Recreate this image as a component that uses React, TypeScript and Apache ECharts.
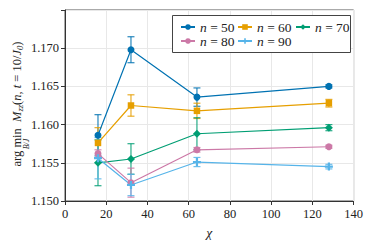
import React, { useEffect, useRef } from "react";
import * as echarts from "echarts";

const chi = [16, 32, 64, 128];
const n50 = [1.1586, 1.1698, 1.1636, 1.165];
const e50 = [0.0027, 0.0017, 0.0012, 0.0002];
const n60 = [1.1576, 1.1625, 1.1618, 1.1628];
const e60 = [0.002, 0.0014, 0.001, 0.0005];
const n70 = [1.155, 1.1555, 1.1588, 1.1596];
const e70 = [0.003, 0.002, 0.0021, 0.0004];
const n80 = [1.1562, 1.1524, 1.1567, 1.1571];
const e80 = [0.0005, 0.0019, 0.0003, 0.0002];
const n90 = [1.1556, 1.1521, 1.1551, 1.1545];
const e90 = [0.0027, 0.0014, 0.0006, 0.0003];
const names = ["n = 50", "n = 60", "n = 70", "n = 80", "n = 90"];
const colors = ["#0072B2", "#E69F00", "#009E73", "#CC79A7", "#56B4E9"];
const FONT = "Liberation Serif";

const PLUS = "path://M3.6,0H6.4V3.6H10V6.4H6.4V10H3.6V6.4H0V3.6H3.6Z";
const symbols = ["circle", "rect", "diamond", "circle", PLUS];
const symSizes = [7, 6.5, 8, 7, 8];

export default function App() {
  const ref = useRef<HTMLDivElement>(null);
  useEffect(() => {
    const chart = echarts.init(ref.current!, null, { renderer: "svg" });
    const vals = [n50, n60, n70, n80, n90];
    const errs = [e50, e60, e70, e80, e90];
    const errSeries = vals.map((v, i) => ({
      type: "custom",
      name: names[i] + " err",
      z: 3,
      data: chi.map((x, k) => [x, v[k] - errs[i][k], v[k] + errs[i][k]]),
      renderItem: (params: any, api: any) => {
        const x = api.value(0);
        const top = api.coord([x, api.value(2)]);
        const bot = api.coord([x, api.value(1)]);
        const w = 3.5;
        const st = { stroke: colors[i], lineWidth: 1.2, opacity: 0.85 };
        return {
          type: "group",
          children: [
            { type: "line", shape: { x1: top[0], y1: top[1], x2: bot[0], y2: bot[1] }, style: st },
            { type: "line", shape: { x1: top[0] - w, y1: top[1], x2: top[0] + w, y2: top[1] }, style: st },
            { type: "line", shape: { x1: bot[0] - w, y1: bot[1], x2: bot[0] + w, y2: bot[1] }, style: st },
          ],
        };
      },
    }));
    const lineSeries = vals.map((v, i) => ({
      type: "line",
      name: names[i],
      z: 4,
      data: chi.map((x, k) => [x, v[k]]),
      symbol: symbols[i],
      symbolSize: symSizes[i],
      showAllSymbol: true,
      lineStyle: { color: colors[i], width: 1.2 },
      itemStyle: { color: colors[i], borderWidth: 0 },
    }));
    const legendPos = [
      [180, 27],
      [237, 27],
      [295, 27],
      [180, 41],
      [237, 41],
    ];
    const legends = names.map((nm, i) => ({
      data: [nm],
      left: legendPos[i][0],
      top: legendPos[i][1] - 7,
      padding: 0,
      z: 10,
      itemWidth: 14,
      itemHeight: 7,
      itemGap: 0,
      formatter: (name: string) => "{i|n}{r|" + name.slice(1) + "}",
      textStyle: {
        fontFamily: FONT,
        rich: {
          i: { fontFamily: FONT, fontStyle: "italic", fontSize: 13.5, color: "#222", lineHeight: 14 },
          r: { fontFamily: FONT, fontSize: 13.5, color: "#222", lineHeight: 14 },
        },
      },
    }));
    chart.setOption({
      animation: false,
      backgroundColor: "#fff",
      textStyle: { fontFamily: FONT },
      grid: { left: 65, right: 10, top: 10, bottom: 43, show: true, borderColor: "#555", borderWidth: 1, backgroundColor: "transparent" },
      legend: legends,
      xAxis: {
        type: "value",
        min: 0,
        max: 140,
        interval: 20,
        name: "χ",
        nameLocation: "middle",
        nameGap: 24,
        nameTextStyle: { fontFamily: FONT, fontStyle: "italic", fontSize: 13.5, color: "#222" },
        axisLine: { show: true, lineStyle: { color: "#333", width: 1 } },
        axisTick: { show: true, length: 4, lineStyle: { color: "#333" } },
        axisLabel: { fontFamily: FONT, fontSize: 12.5, color: "#222", margin: 6 },
        splitLine: { show: true, lineStyle: { color: "#e8e8e8", width: 1 } },
      },
      yAxis: {
        type: "value",
        min: 1.15,
        max: 1.175,
        interval: 0.005,
        axisLine: { show: true, lineStyle: { color: "#333", width: 1 } },
        axisTick: { show: true, length: 4, lineStyle: { color: "#333" } },
        axisLabel: {
          fontFamily: FONT,
          fontSize: 12.5,
          color: "#222",
          margin: 6,
          formatter: (v: number) => (Math.abs(v - 1.175) < 1e-6 ? "" : v.toFixed(3)),
        },
        splitLine: { show: true, lineStyle: { color: "#e8e8e8", width: 1 } },
      },
      graphic: [
        {
          type: "rect",
          shape: { x: 172.5, y: 15.5, width: 178, height: 37 },
          style: { fill: "#fff", stroke: "#444", lineWidth: 1 },
          z: 1,
        },
        {
          type: "group",
          x: 17,
          y: 104,
          rotation: Math.PI / 2,
          children: [
            {
              type: "text",
              x: 0,
              y: 0,
              style: {
                text: "{r|arg min  }{i|M}{s|zz}{r|(}{i|n}{r|, }{i|t}{r| = 10/}{i|J}{s|0}{r|)}",
                align: "center",
                verticalAlign: "middle",
                rich: {
                  r: { fontFamily: FONT, fontSize: 12.5, fill: "#222" },
                  i: { fontFamily: FONT, fontSize: 12.5, fontStyle: "italic", fill: "#222" },
                  s: { fontFamily: FONT, fontSize: 8.5, fontStyle: "italic", fill: "#222", padding: [6, 0, 0, 0] },
                },
              },
            },
            {
              type: "text",
              x: -40,
              y: 9,
              style: {
                text: "B/J",
                fontFamily: FONT,
                fontSize: 8,
                fontStyle: "italic",
                fill: "#222",
                align: "center",
                verticalAlign: "middle",
              },
            },
          ],
        },
      ],
      series: [...errSeries, ...lineSeries],
    });
    return () => chart.dispose();
  }, []);
  return <div ref={ref} style={{ width: 366, height: 244, position: "absolute", left: 0, top: 0 }} />;
}
